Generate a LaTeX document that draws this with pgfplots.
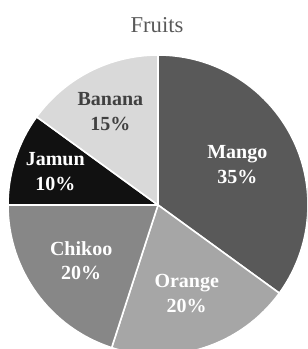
\documentclass[border=0pt]{standalone}
\usepackage{pgfplots}
\pgfplotsset{compat=1.18}
\usepackage{pgfplotstable}
\usepackage{fontspec}
\setmainfont{Liberation Serif}
\definecolor{mango}{HTML}{595959}
\definecolor{orange}{HTML}{A6A6A6}
\definecolor{chikoo}{HTML}{878787}
\definecolor{jamun}{HTML}{111111}
\definecolor{banana}{HTML}{D9D9D9}
\definecolor{bantext}{HTML}{404040}
\definecolor{titlegray}{HTML}{595959}
% label pct fill textcolor labelradius(px)
\pgfplotstableread{
label pct col txt lr
Mango 35 mango white 89
Orange 20 orange white 93
Chikoo 20 chikoo white 95
Jamun 10 jamun white 108
Banana 15 banana bantext 105
}\fruitdata
\begin{document}
\begin{tikzpicture}
\path[use as bounding box, clip] (0,0) rectangle (230.25pt,261.75pt);
\begin{axis}[at={(0,0)}, anchor=south west, x=0.75pt, y=0.75pt,
  xmin=0, xmax=307, ymin=0, ymax=349, hide axis, clip=false]
\def\startang{90}
\pgfplotsforeachungrouped \i in {0,...,4}{%
  \pgfplotstablegetelem{\i}{pct}\of\fruitdata \let\pct\pgfplotsretval
  \pgfplotstablegetelem{\i}{col}\of\fruitdata \let\col\pgfplotsretval
  \pgfmathsetmacro\endang{\startang-3.6*\pct}%
  \edef\cmd{\noexpand\fill[\col, draw=white, line width=1.2pt, line join=round]
    (axis cs:158,144) -- ++(\startang:112.5pt)
    arc[start angle=\startang, end angle=\endang, radius=112.5pt] -- cycle;}%
  \cmd
  \let\startang\endang
}
\def\startang{90}
\pgfplotsforeachungrouped \i in {0,...,4}{%
  \pgfplotstablegetelem{\i}{pct}\of\fruitdata \let\pct\pgfplotsretval
  \pgfplotstablegetelem{\i}{label}\of\fruitdata \let\lab\pgfplotsretval
  \pgfplotstablegetelem{\i}{txt}\of\fruitdata \let\txt\pgfplotsretval
  \pgfplotstablegetelem{\i}{lr}\of\fruitdata \let\lr\pgfplotsretval
  \pgfmathsetmacro\endang{\startang-3.6*\pct}%
  \pgfmathsetmacro\midang{(\startang+\endang)/2}%
  \pgfmathsetmacro\lrpt{0.75*\lr}%
  \edef\cmd{\noexpand\path (axis cs:158,144) ++(\midang:\lrpt pt)
    node[text=\txt, align=center, inner sep=0pt,
      font=\noexpand\bfseries\noexpand\fontsize{15}{18.5}\noexpand\selectfont]
    {\lab\noexpand\\\pct\noexpand\%};}%
  \cmd
  \let\startang\endang
}
\node[text=titlegray, font=\fontsize{17}{20}\selectfont] at (axis cs:157,324) {Fruits};
\end{axis}
\end{tikzpicture}
\end{document}
